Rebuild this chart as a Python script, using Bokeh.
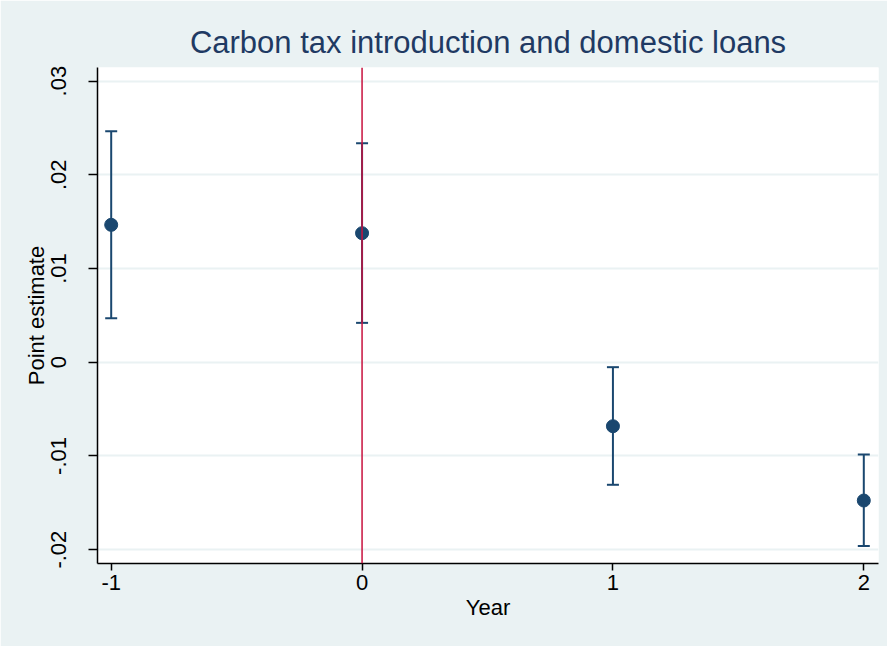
from bokeh.plotting import figure
from bokeh.models import ColumnDataSource, Whisker, TeeHead, Span, Range1d, FixedTicker
from bokeh.embed import file_html
from bokeh.resources import INLINE

# Data
years = [-1, 0, 1, 2]
estimate = [0.01466, 0.01377, -0.00683, -0.01476]
ci_lower = [0.0047, 0.0042, -0.01308, -0.0196]
ci_upper = [0.02465, 0.02337, -0.00053, -0.00985]

x_ticks = [-1, 0, 1, 2]
x_tick_labels = ["-1", "0", "1", "2"]
y_ticks = [-0.02, -0.01, 0.0, 0.01, 0.02, 0.03]
y_tick_labels = ["-.02", "-.01", "0", ".01", ".02", ".03"]

NAVY = "#1A476F"
BG = "#EAF2F3"
FONT = "Liberation Sans"

src = ColumnDataSource(dict(x=years, y=estimate, lo=ci_lower, hi=ci_upper))

p = figure(width=887, height=646, output_backend="svg", toolbar_location=None,
           x_range=Range1d(-1.0546, 2.0586), y_range=Range1d(-0.02148, 0.03145),
           min_border_left=97, min_border_right=9, min_border_top=67, min_border_bottom=83,
           title="Carbon tax introduction and domestic loans")

p.border_fill_color = BG
p.background_fill_color = "white"
p.outline_line_color = None

p.title.text_font = FONT
p.title.text_font_size = "31px"
p.title.text_font_style = "normal"
p.title.text_color = "#1F3A63"
p.title.align = "center"
p.title.standoff = 15

# grids
p.xgrid.visible = False
p.ygrid.ticker = FixedTicker(ticks=y_ticks)
p.ygrid.grid_line_color = BG
p.ygrid.grid_line_width = 2

# axes
p.xaxis.ticker = FixedTicker(ticks=x_ticks)
p.xaxis.major_label_overrides = {t: l for t, l in zip(x_ticks, x_tick_labels)}
p.yaxis.ticker = FixedTicker(ticks=y_ticks)
p.yaxis.major_label_overrides = {t: l for t, l in zip(y_ticks, y_tick_labels)}
p.yaxis.major_label_orientation = "vertical"
p.xaxis.axis_label = "Year"
p.yaxis.axis_label = "Point estimate"
for ax in (p.xaxis, p.yaxis):
    ax.axis_line_color = "black"
    ax.axis_line_width = 1.5
    ax.major_tick_line_color = "black"
    ax.major_tick_line_width = 1.5
    ax.major_tick_in = 0
    ax.minor_tick_line_color = None
    ax.major_label_text_font = FONT
    ax.major_label_text_font_size = "22px"
    ax.major_label_text_color = "black"
    ax.axis_label_text_font = FONT
    ax.axis_label_text_font_size = "22px"
    ax.axis_label_text_font_style = "normal"
    ax.axis_label_text_color = "black"
p.yaxis.major_tick_out = 9
p.xaxis.major_tick_out = 7
p.yaxis.major_label_standoff = 22
p.xaxis.major_label_standoff = 4
p.yaxis.axis_label_standoff = 0
p.xaxis.axis_label_standoff = 2

# vertical reference line at year 0
p.add_layout(Span(location=0, dimension="height", line_color="#C8103E", line_width=1.5))

# confidence intervals
w = Whisker(source=src, base="x", lower="lo", upper="hi", line_color=NAVY, line_width=2,
            upper_head=TeeHead(size=12, line_color=NAVY, line_width=2),
            lower_head=TeeHead(size=12, line_color=NAVY, line_width=2))
p.add_layout(w)

p.scatter("x", "y", source=src, size=13, fill_color=NAVY, line_color=NAVY)

open("out.html", "w").write(file_html(p, INLINE))
